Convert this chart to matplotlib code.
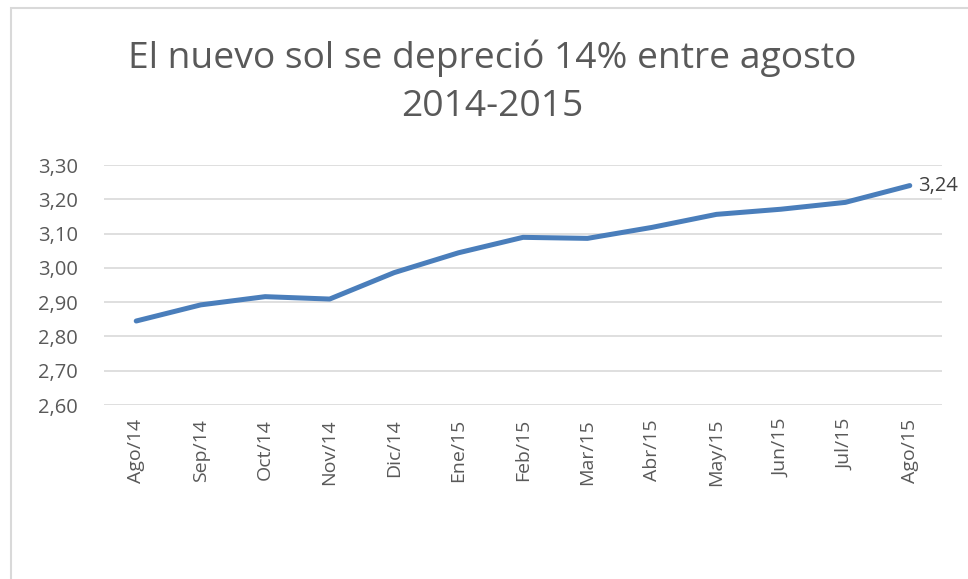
import matplotlib
matplotlib.use("Agg")
import matplotlib.pyplot as plt
from matplotlib.patches import Rectangle
from matplotlib.ticker import FuncFormatter

categories = ["Ago/14", "Sep/14", "Oct/14", "Nov/14", "Dic/14", "Ene/15", "Feb/15",
              "Mar/15", "Abr/15", "May/15", "Jun/15", "Jul/15", "Ago/15"]
values = [2.845, 2.892, 2.916, 2.909, 2.986, 3.044, 3.089, 3.086, 3.118, 3.156, 3.171, 3.191, 3.24]
yticks = [2.60, 2.70, 2.80, 2.90, 3.00, 3.10, 3.20, 3.30]
title = "El nuevo sol se depreció 14% entre agosto\n2014-2015"

plt.rcParams['font.family'] = ['Open Sans', 'DejaVu Sans']
text_color = "#595959"

W, H = 968, 579
fig = plt.figure(figsize=(W / 100, H / 100), dpi=100)
fig.patch.set_facecolor("white")

# chart area border
fig.add_artist(Rectangle((11 / W, -0.05), 1.2, 1 - 8 / H + 0.05, transform=fig.transFigure,
                         fill=False, edgecolor="#D9D9D9", linewidth=1.5))

ax = fig.add_axes([104 / W, 1 - 405 / H, (942 - 104) / W, (405 - 165) / H])
x = list(range(len(categories)))
ax.plot(x, values, color="#4A7EBB", linewidth=3.6, solid_capstyle="round", zorder=3)
ax.set_xlim(-0.5, len(categories) - 0.5)
ax.set_ylim(2.60, 3.30)
ax.set_yticks(yticks)
ax.yaxis.set_major_formatter(FuncFormatter(lambda v, p: f"{v:.2f}".replace(".", ",")))
ax.set_xticks(x)
ax.set_xticklabels(categories, rotation=90)
ax.grid(axis="y", color="#D9D9D9", linewidth=1.2)
ax.set_axisbelow(True)
for s in ax.spines.values():
    s.set_visible(False)
ax.tick_params(axis="both", length=0, colors=text_color)
ax.tick_params(axis="y", pad=19, labelsize=14.5)
ax.tick_params(axis="x", pad=10, labelsize=14)

ax.annotate(f"{values[-1]:.2f}".replace(".", ","), (x[-1], values[-1]),
            xytext=(6, 0), textcoords="offset points", va="center", ha="left",
            fontsize=14.5, color="#404040")

fig.text(492 / W, 1 - 82 / H, title, ha="center", va="center", fontsize=26.8,
         color=text_color, linespacing=1.45)

fig.savefig("out.png", dpi=100)
